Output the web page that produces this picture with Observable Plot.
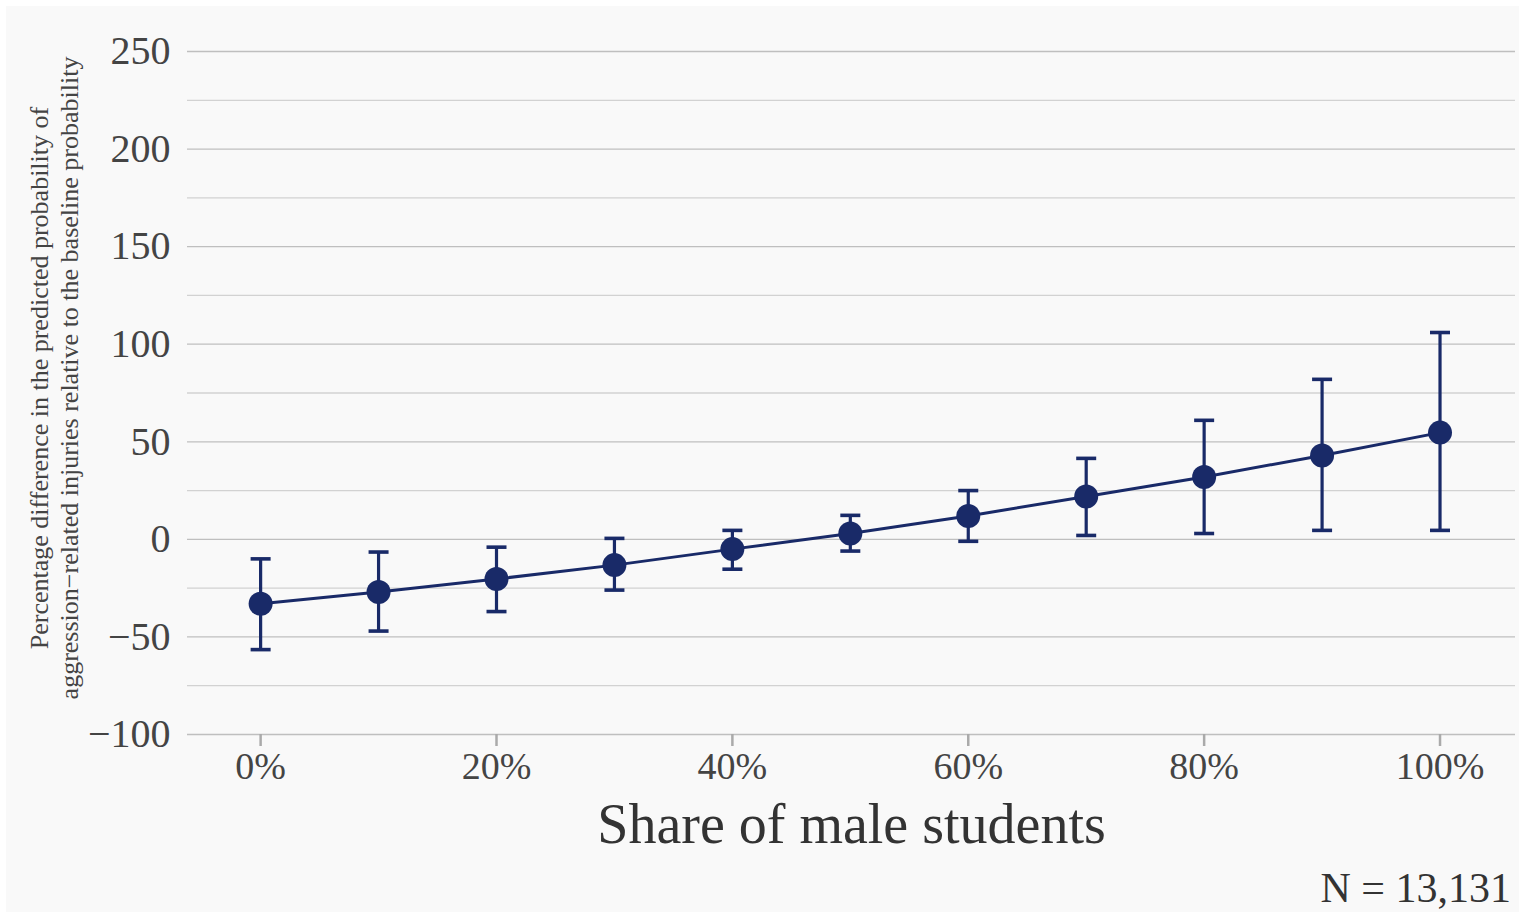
<!DOCTYPE html>
<html>
<head>
<meta charset="utf-8">
<script src="https://cdn.jsdelivr.net/npm/d3@7"></script>
<script src="https://cdn.jsdelivr.net/npm/@observablehq/plot@0.6"></script>
<style>
  html, body { margin: 0; padding: 0; background: #ffffff; }
  #panel { position: absolute; left: 6px; top: 6px; width: 1513px; height: 906px; background: #f9f9f9; }
  #chart { position: absolute; left: 0; top: 0; }
  #caption { position: absolute; right: 8px; top: 864px; font-family: "Liberation Serif", "Times New Roman", serif; font-size: 42px; color: #333; }
</style>
</head>
<body>
<div id="panel"></div>
<div id="chart"></div>
<div id="caption">N = 13,131</div>
<script>
const share = [0, 10, 20, 30, 40, 50, 60, 70, 80, 90, 100];
const estimate = [-33, -27, -20.3, -13.2, -5, 3, 12, 22, 32, 43, 54.7];
const lower = [-56.5, -47, -37, -26, -15.3, -6, -1, 2, 3, 4.6, 4.6];
const upper = [-10, -6.5, -4, 0.5, 4.6, 12.3, 25, 41.5, 61, 82, 106];
const yMajorTicks = [-100, -50, 0, 50, 100, 150, 200, 250];
const yMinorTicks = [-75, -25, 25, 75, 125, 175, 225];
const xTicks = [0, 20, 40, 60, 80, 100];

const data = share.map((s, i) => ({share: s, est: estimate[i], lo: lower[i], hi: upper[i]}));
const navy = "#192a68";
const serif = "Liberation Serif, Times New Roman, serif";

const capSymbol = {
  draw(context, size) {
    const r = Math.sqrt(size / Math.PI);
    context.moveTo(-r, 0);
    context.lineTo(r, 0);
  }
};

const chart = Plot.plot({
  width: 1519,
  height: 860,
  marginLeft: 187,
  marginRight: 4,
  marginTop: 51,
  marginBottom: 126,
  style: { background: "transparent", fontFamily: serif },
  x: { domain: [-6.2, 106.4] },
  y: { domain: [-100, 250] },
  marks: [
    Plot.ruleY(yMinorTicks, { stroke: "#d2d2d2", strokeWidth: 1.3 }),
    Plot.ruleY(yMajorTicks, { stroke: "#bfbfbf", strokeWidth: 1.3 }),
    Plot.axisY({ ticks: yMajorTicks, tickSize: 0, tickPadding: 17, fontSize: 40, fill: "#444", label: null, tickFormat: d => d < 0 ? "\u2212" + Math.abs(d) : String(d) }),
    Plot.axisX({ ticks: xTicks, tickSize: 12, tickPadding: 6, stroke: "#aaa", strokeWidth: 2.5, fontSize: 38, fill: "#444", label: null, tickFormat: d => d + "%" }),
    Plot.text(["Share of male students"], { frameAnchor: "bottom", dy: 108, fontSize: 56, fill: "#333" }),
    Plot.text(["Percentage difference in the predicted probability of\naggression\u2212related injuries relative to the baseline probability"], {
      frameAnchor: "left", textAnchor: "middle", dx: -134, dy: -15, rotate: -90, fontSize: 26, lineHeight: 1.16, fill: "#444"
    }),
    Plot.ruleX(data, { x: "share", y1: "lo", y2: "hi", stroke: navy, strokeWidth: 3.2 }),
    Plot.dot(data, { x: "share", y: "lo", symbol: capSymbol, r: 10, stroke: navy, strokeWidth: 3.6 }),
    Plot.dot(data, { x: "share", y: "hi", symbol: capSymbol, r: 10, stroke: navy, strokeWidth: 3.6 }),
    Plot.line(data, { x: "share", y: "est", stroke: navy, strokeWidth: 3 }),
    Plot.dot(data, { x: "share", y: "est", r: 12, fill: navy, stroke: "none" })
  ]
});
document.getElementById("chart").appendChild(chart);
</script>
</body>
</html>
